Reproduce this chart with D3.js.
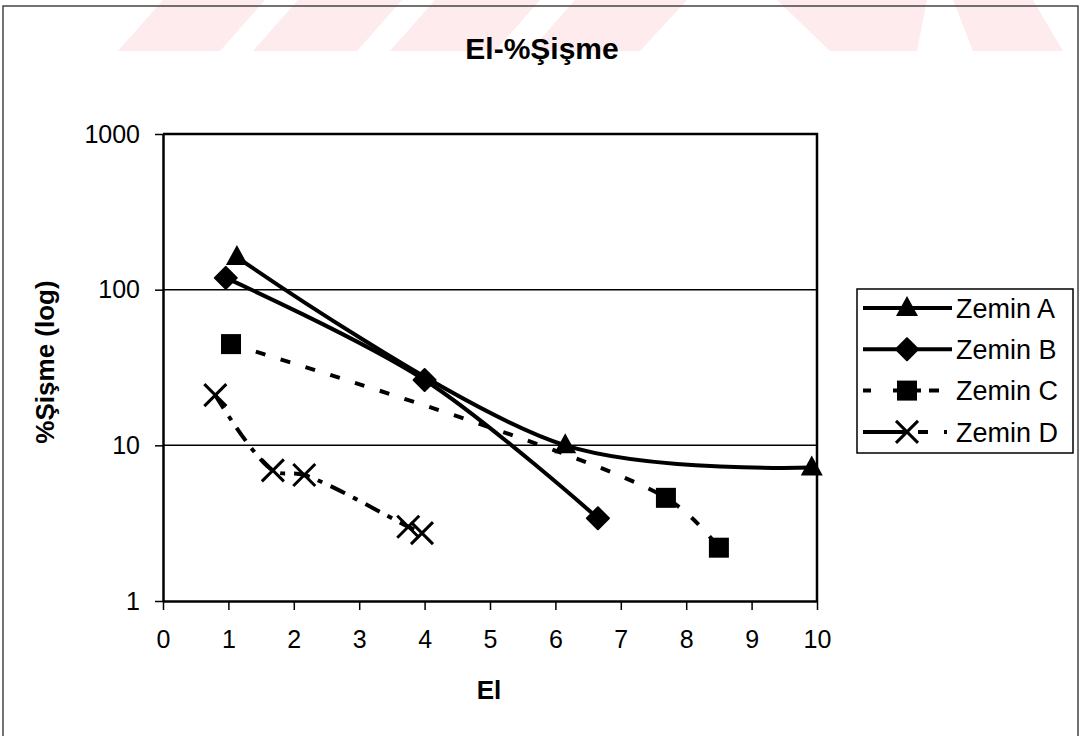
<!DOCTYPE html>
<html>
<head>
<meta charset="utf-8">
<script src="https://cdn.jsdelivr.net/npm/d3@7"></script>
<style>
  body { margin: 0; background: #fff; }
  svg text { font-family: "Liberation Sans", Arial, sans-serif; fill: #000; }
</style>
</head>
<body>
<div id="chart"></div>
<script>
//
// El - %Şişme log chart
//

// data
var seriesNames = ["Zemin A", "Zemin B", "Zemin C", "Zemin D"];
var zeminA_El = [1.13, 6.15, 9.92];
var zeminA_Sisme = [162, 10, 7.2];
var zeminB_El = [0.96, 4.0, 6.65];
var zeminB_Sisme = [119, 26.3, 3.4];
var zeminC_El = [1.04, 7.69, 8.5];
var zeminC_Sisme = [44.7, 4.6, 2.2];
var zeminD_El = [0.8, 1.68, 2.16, 3.75, 3.96];
var zeminD_Sisme = [21, 6.9, 6.45, 3.0, 2.73];
var xTicks = [0, 1, 2, 3, 4, 5, 6, 7, 8, 9, 10];
var yTicks = [1, 10, 100, 1000];
var gridValues = [10, 100];

const _width = 1081;
const _height = 736;
const _plotLeft = 163;
const _plotRight = 817;
const _plotTop = 134;
const _plotBottom = 601;

var _series = [
    { name: seriesNames[0], el: zeminA_El, val: zeminA_Sisme, marker: "triangle", dash: null },
    { name: seriesNames[1], el: zeminB_El, val: zeminB_Sisme, marker: "diamond", dash: null },
    { name: seriesNames[2], el: zeminC_El, val: zeminC_Sisme, marker: "square", dash: "10,16" },
    { name: seriesNames[3], el: zeminD_El, val: zeminD_Sisme, marker: "cross", dash: "16,9,5,9" }
];

var svg = d3.select("#chart")
    .append("svg")
    .attr("width", _width)
    .attr("height", _height);

// scan watermark at the top
var watermark = [
    [[163, 0], [265, 0], [220, 51], [118, 51]],
    [[298, 0], [402, 0], [357, 51], [253, 51]],
    [[435, 0], [540, 0], [495, 51], [390, 51]],
    [[575, 0], [687, 0], [640, 51], [530, 51]],
    [[777, 0], [927, 0], [917, 51], [830, 51]],
    [[953, 0], [1033, 0], [1063, 51], [973, 51]]
];
svg.append("g")
    .selectAll("polygon")
    .data(watermark)
    .join("polygon")
    .attr("points", d => d.map(p => p.join(",")).join(" "))
    .attr("fill", "#fdebee");

// outer frame
svg.append("path")
    .attr("d", "M3," + _height + "V6H1078V" + _height)
    .attr("fill", "none")
    .attr("stroke", "#444")
    .attr("stroke-width", 1.5);

var x = d3.scaleLinear().domain([0, 10]).range([_plotLeft, _plotRight]);
var y = d3.scaleLog().domain([1, 1000]).range([_plotBottom, _plotTop]);

// gridlines
svg.append("g")
    .selectAll("line")
    .data(gridValues)
    .join("line")
    .attr("x1", _plotLeft)
    .attr("x2", _plotRight)
    .attr("y1", d => y(d))
    .attr("y2", d => y(d))
    .attr("stroke", "#000")
    .attr("stroke-width", 1.5);

// top and right edges of plot
svg.append("path")
    .attr("d", "M" + _plotLeft + "," + _plotTop + "H" + _plotRight + "V" + _plotBottom)
    .attr("fill", "none")
    .attr("stroke", "#000")
    .attr("stroke-width", 2.5);

// x-axis
var xAxis = d3.axisBottom(x).tickValues(xTicks).tickSize(9).tickSizeOuter(0).tickPadding(20).tickFormat(d3.format("d"));
var gx = svg.append("g")
    .attr("transform", "translate(0," + _plotBottom + ")")
    .call(xAxis);
gx.select(".domain").attr("stroke-width", 2.5);
gx.selectAll(".tick line").attr("stroke-width", 1.5);
gx.selectAll("text").style("font-size", "25px");

// y-axis
var yAxis = d3.axisLeft(y).tickValues(yTicks).tickSize(8).tickSizeOuter(0).tickPadding(15).tickFormat(d3.format("d"));
var gy = svg.append("g")
    .attr("transform", "translate(" + _plotLeft + ",0)")
    .call(yAxis);
gy.select(".domain").attr("stroke-width", 2.5);
gy.selectAll(".tick line").attr("stroke-width", 1.5);
gy.selectAll("text").style("font-size", "25px");

// titles
svg.append("text")
    .attr("x", 542)
    .attr("y", 59)
    .style("text-anchor", "middle")
    .style("font-size", "30px")
    .attr("font-weight", "bold")
    .text("El-%Şişme");

svg.append("text")
    .attr("x", 489)
    .attr("y", 699)
    .style("text-anchor", "middle")
    .style("font-size", "26px")
    .attr("font-weight", "bold")
    .text("El");

svg.append("text")
    .attr("transform", "translate(54,362) rotate(-90)")
    .style("text-anchor", "middle")
    .style("font-size", "26px")
    .attr("font-weight", "bold")
    .text("%Şişme (log)");

// lines
var line = d3.line()
    .x(d => x(d[0]))
    .y(d => y(d[1]))
    .curve(d3.curveCatmullRom.alpha(0.5));

svg.append("g")
    .selectAll("path")
    .data(_series)
    .join("path")
    .attr("fill", "none")
    .attr("stroke", "#000")
    .attr("stroke-width", 4)
    .attr("stroke-linejoin", "round")
    .attr("stroke-dasharray", d => d.dash)
    .attr("d", d => line(d.el.map((e, i) => [e, d.val[i]])));

function drawMarker(g, type, cx, cy) {
    if (type == "triangle") {
        g.append("path")
            .attr("d", "M" + cx + "," + (cy - 12) + "L" + (cx + 11) + "," + (cy + 8) + "L" + (cx - 11) + "," + (cy + 8) + "Z")
            .attr("fill", "#000");
    }
    else if (type == "diamond") {
        g.append("path")
            .attr("d", "M" + cx + "," + (cy - 11) + "L" + (cx + 11) + "," + cy + "L" + cx + "," + (cy + 11) + "L" + (cx - 11) + "," + cy + "Z")
            .attr("fill", "#000")
            .attr("stroke", "#000")
            .attr("stroke-linejoin", "round")
            .attr("stroke-width", 2);
    }
    else if (type == "square") {
        g.append("rect")
            .attr("x", cx - 10)
            .attr("y", cy - 10)
            .attr("width", 20)
            .attr("height", 20)
            .attr("fill", "#000");
    }
    else {
        g.append("path")
            .attr("d", "M" + (cx - 11) + "," + (cy - 11) + "L" + (cx + 11) + "," + (cy + 11) + "M" + (cx + 11) + "," + (cy - 11) + "L" + (cx - 11) + "," + (cy + 11))
            .attr("stroke", "#000")
            .attr("stroke-width", 3);
    }
}

// markers
_series.forEach(function (s) {
    var g = svg.append("g");
    for (i = 0; i < s.el.length; i++) {
        drawMarker(g, s.marker, x(s.el[i]), y(s.val[i]));
    }
});

// legend
var legend = svg.append("g");
legend.append("rect")
    .attr("x", 857)
    .attr("y", 289)
    .attr("width", 216)
    .attr("height", 164)
    .attr("fill", "#fff")
    .attr("stroke", "#000")
    .attr("stroke-width", 1.5);

var legendDash = [null, null, "8,22,28,8,10,30", "45,10,10,16,3,20"];
_series.forEach(function (s, idx) {
    var ly = 308 + idx * 41.3;
    legend.append("line")
        .attr("x1", 863)
        .attr("x2", 952)
        .attr("y1", ly)
        .attr("y2", ly)
        .attr("stroke", "#000")
        .attr("stroke-width", 4)
        .attr("stroke-dasharray", legendDash[idx]);
    drawMarker(legend, s.marker, 907, ly);
    legend.append("text")
        .attr("x", 956)
        .attr("y", ly)
        .attr("dy", ".36em")
        .style("font-size", "27px")
        .text(s.name);
});
</script>
</body>
</html>
